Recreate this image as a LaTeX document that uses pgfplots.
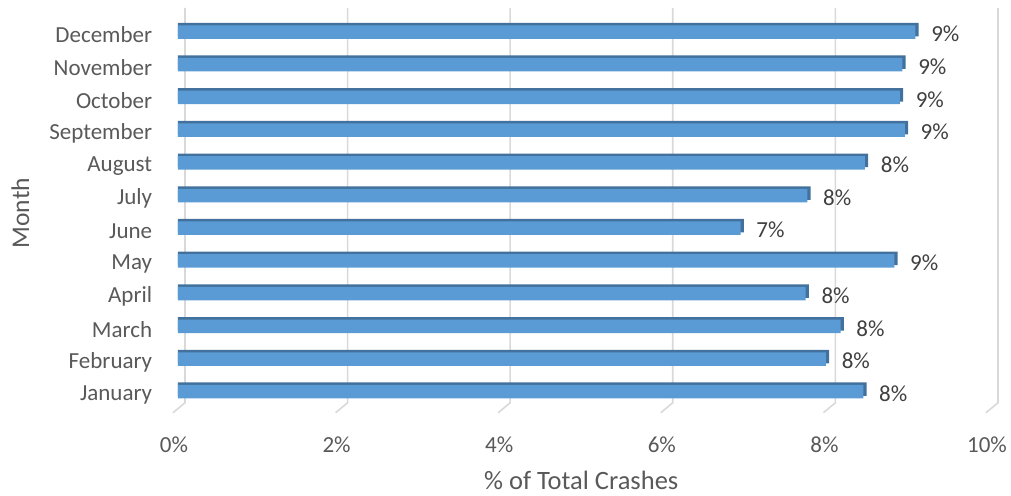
\documentclass[border=0pt]{standalone}
\usepackage{pgfplots}
\pgfplotsset{compat=1.18}
\usepackage{pgfplotstable}
\usepackage{fontspec}
\setmainfont{Carlito}
\definecolor{barface}{HTML}{5B9BD5}
\definecolor{bardark}{HTML}{41719C}
\definecolor{gridc}{HTML}{D9D9D9}
\definecolor{txt}{HTML}{595959}
\definecolor{lbl}{HTML}{404040}

% share of crashes per month, in percent (0 = January)
\pgfplotstableread{
idx v
0  8.43
1  7.97
2  8.15
3  7.72
4  8.81
5  6.92
6  7.74
7  8.45
8  8.94
9  8.88
10 8.91
11 9.07
}\months

\begin{document}
\begin{tikzpicture}
\fontsize{23}{27}\selectfont
\path[use as bounding box] (-178pt,-82pt) rectangle (833pt,413pt);
\begin{axis}[
  at={(0,0)}, anchor=south west,
  scale only axis, width=813pt, height=405.5pt,
  xmin=0, xmax=10, ymin=-0.65, ymax=11.75,
  clip=false,
  axis line style={draw=none}, tick style={draw=none},
  xtick={0,2,...,10},
  xticklabel={\pgfmathprintnumber{\tick}\%},
  xticklabel style={xshift=-4pt, yshift=-16pt, text=txt},
  ytick={0,...,11},
  yticklabels={January,February,March,April,May,June,July,August,September,October,November,December},
  yticklabel style={xshift=-18pt, yshift=-3pt, text=txt},
  /pgf/number format/assume math mode=true,
  xlabel={\% of Total Crashes}, ylabel={Month},
  xlabel style={at={(axis description cs:0.496,-0.166)}, anchor=center, text=txt, font=\fontsize{26.5}{30}\selectfont},
  ylabel style={at={(axis description cs:-0.194,0.493)}, anchor=center, text=txt, font=\fontsize{25.5}{30}\selectfont},
  bar width=13.5pt,
]
% back-wall gridlines with their floor steps
\addplot[gridc, line width=1.6pt] coordinates {(-0.0615,-0.642) (0.086,-0.336) (0.086,11.74)};
\addplot[gridc, line width=1.6pt] coordinates {(1.9385,-0.642) (2.086,-0.336) (2.086,11.74)};
\addplot[gridc, line width=1.6pt] coordinates {(3.9385,-0.642) (4.086,-0.336) (4.086,11.74)};
\addplot[gridc, line width=1.6pt] coordinates {(5.9385,-0.642) (6.086,-0.336) (6.086,11.74)};
\addplot[gridc, line width=1.6pt] coordinates {(7.9385,-0.642) (8.086,-0.336) (8.086,11.74)};
\addplot[gridc, line width=1.6pt] coordinates {(9.9385,-0.642) (10.086,-0.336) (10.086,11.74)};
% dark top and side of each bar
\addplot[xbar, fill=bardark, draw=none, bar shift=2.5pt] table[x expr=\thisrow{v}+0.04, y=idx] {\months};
% front face with value labels
\addplot[xbar, fill=barface, draw=none, bar shift=0pt,
  nodes near coords={\pgfmathprintnumber[fixed,precision=0]{\pgfplotspointmeta}\%},
  point meta=x,
  every node near coord/.append style={text=lbl, anchor=west, xshift=8pt, yshift=-2pt}
] table[x=v, y=idx] {\months};
\end{axis}
\end{tikzpicture}
\end{document}
